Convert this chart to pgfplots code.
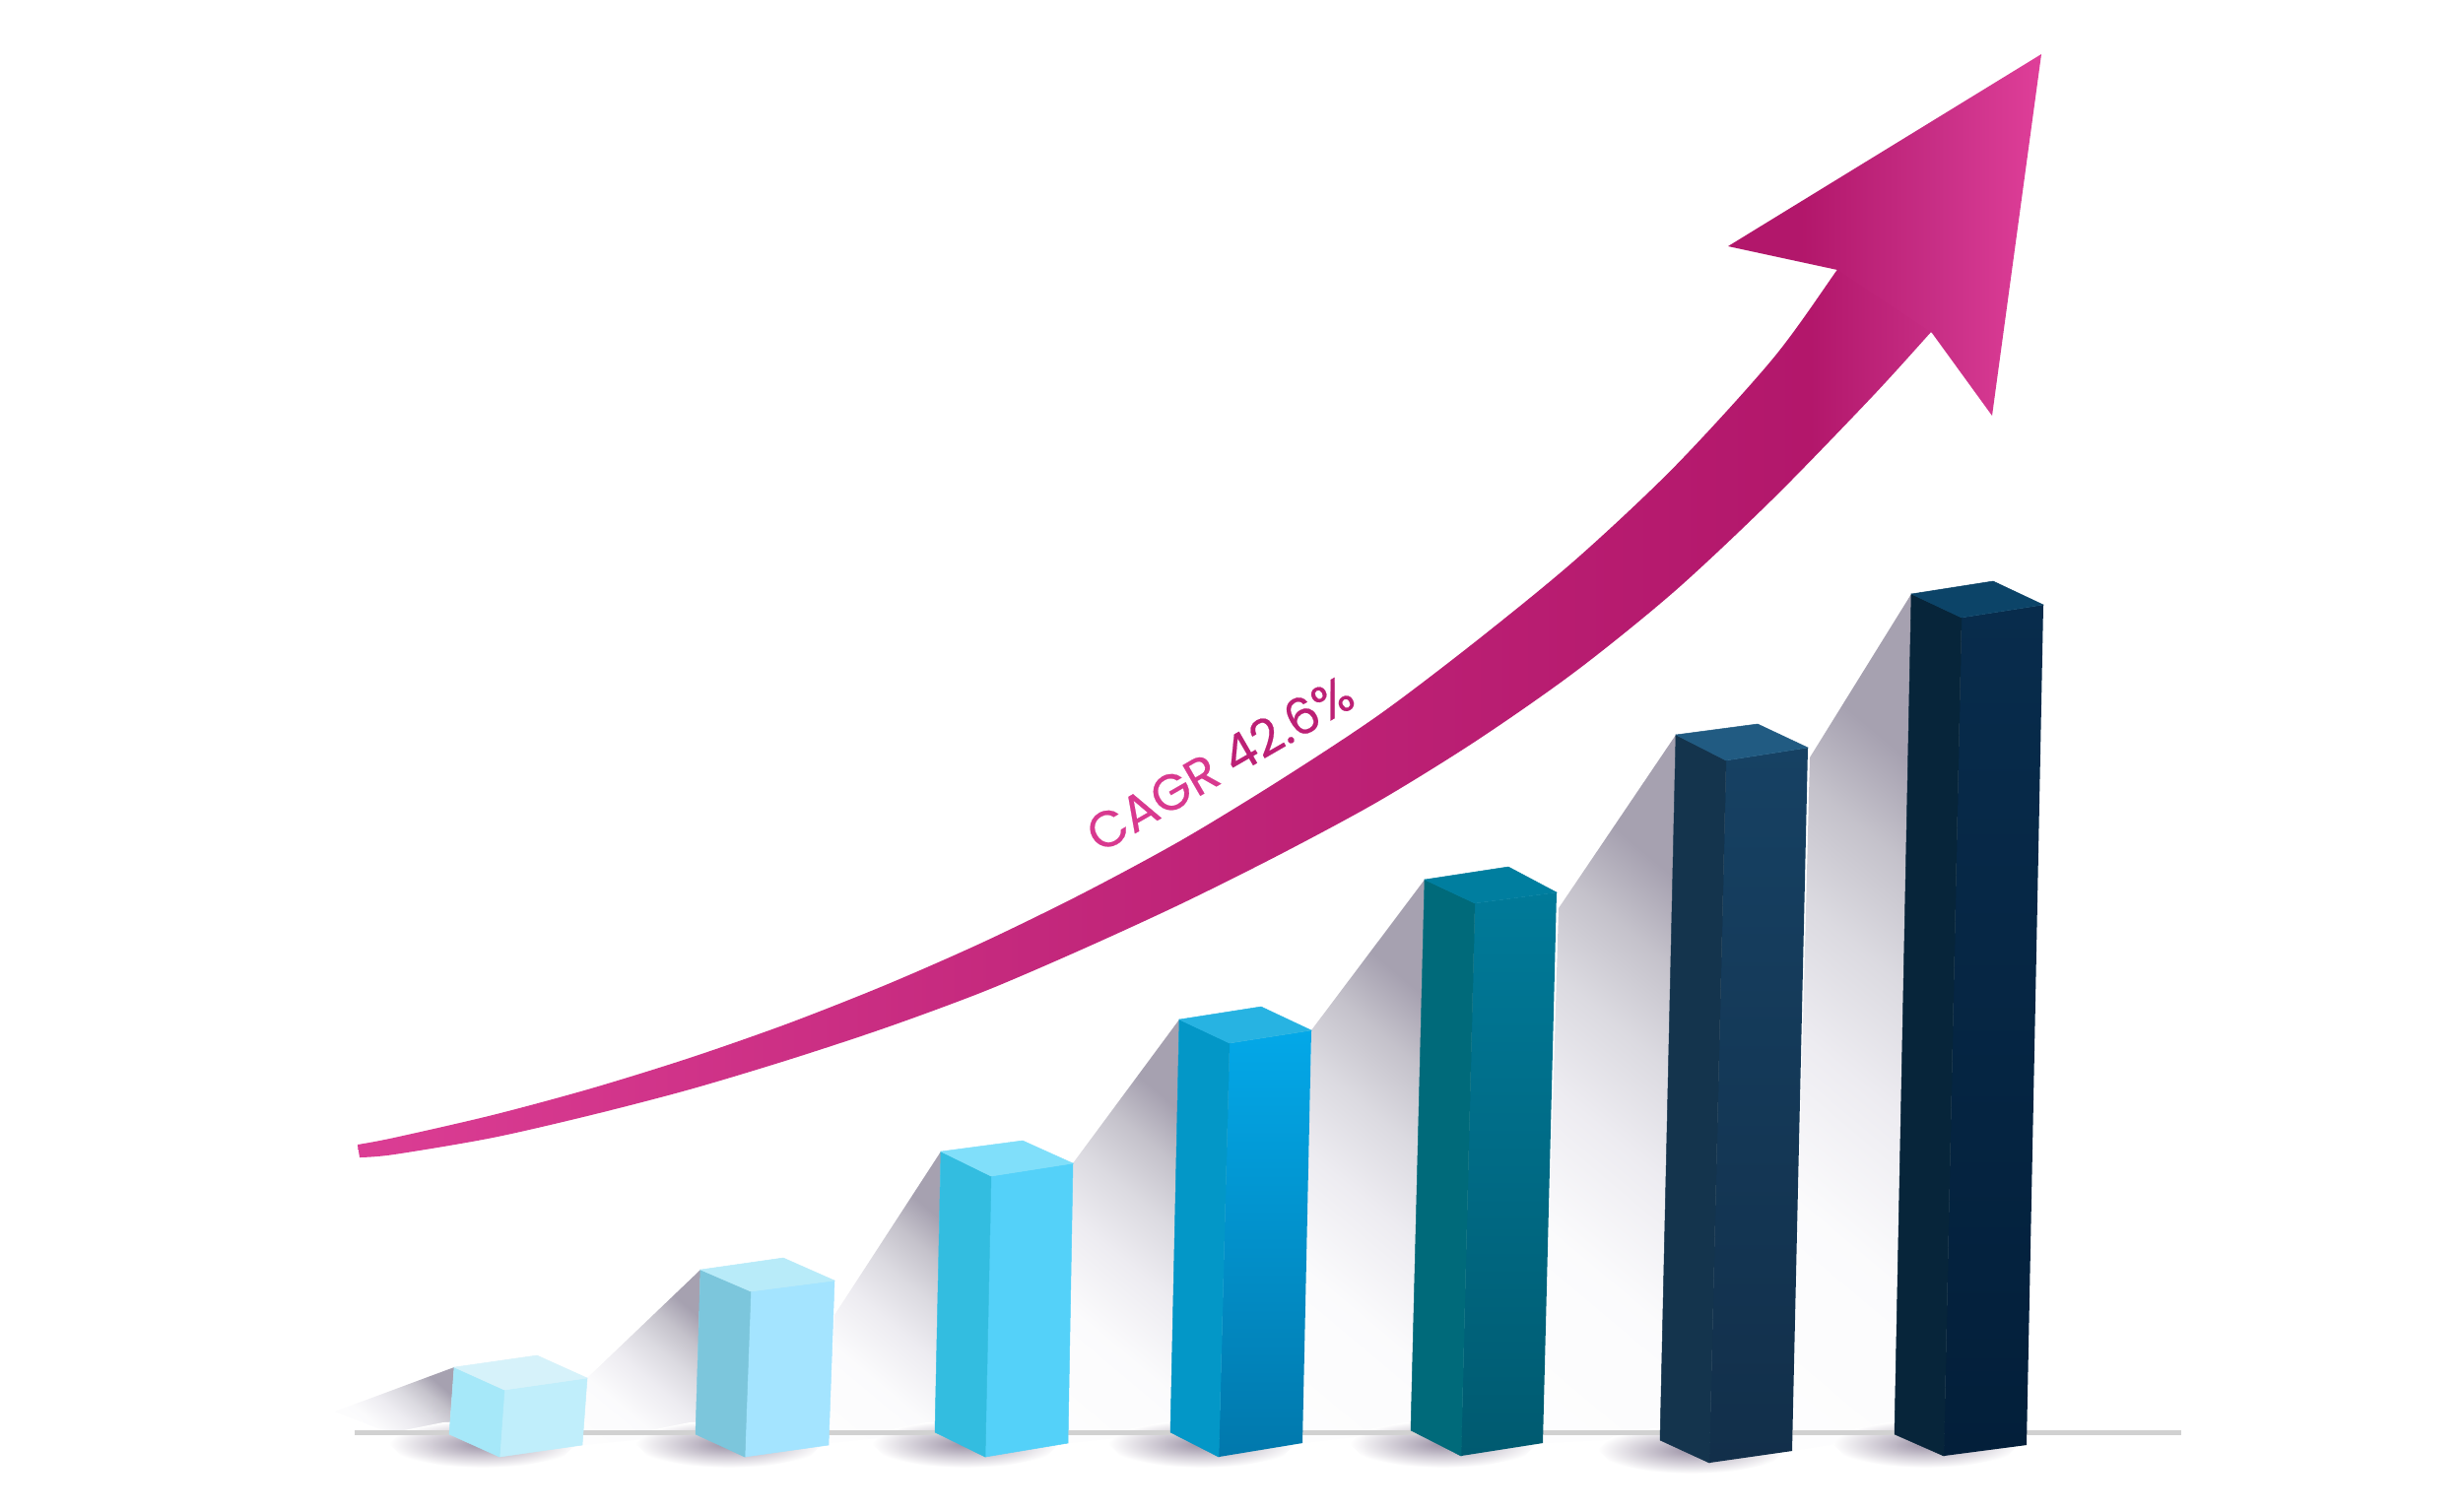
\documentclass[border=0pt]{standalone}
\usepackage{pgfplots}
\pgfplotsset{compat=1.18}
\usepackage{fontspec}
\setmainfont{Poppins}
\newfontfamily\cagrfont[FakeBold=0.4]{Poppins}
\pgfdeclarehorizontalshading{shaftshade}{100bp}{
  rgb(0bp)=(0.86,0.24,0.58);
  rgb(25bp)=(0.86,0.24,0.58);
  rgb(47.7bp)=(0.76,0.15,0.48);
  rgb(70.1bp)=(0.70,0.09,0.42);
  rgb(74.1bp)=(0.78,0.18,0.52);
  rgb(75bp)=(0.80,0.20,0.54);
  rgb(100bp)=(0.80,0.20,0.54)}
\pgfdeclarehorizontalshading{headshade}{100bp}{
  rgb(0bp)=(0.70,0.09,0.42);
  rgb(36.95bp)=(0.70,0.09,0.42);
  rgb(57.5bp)=(0.78,0.18,0.52);
  rgb(75bp)=(0.875,0.245,0.60);
  rgb(100bp)=(0.875,0.245,0.60)}
\pgfdeclareverticalshading{wallshade}{100bp}{
  rgb(0bp)=(1,1,1);
  rgb(33bp)=(0.985,0.985,0.99);
  rgb(46bp)=(0.93,0.925,0.945);
  rgb(56bp)=(0.86,0.855,0.88);
  rgb(65bp)=(0.77,0.76,0.795);
  rgb(73bp)=(0.65,0.63,0.69);
  rgb(100bp)=(0.65,0.63,0.69)}
\definecolor{floorc}{HTML}{9C92A6}
\definecolor{b1r}{HTML}{C0EEFB}\definecolor{b1l}{HTML}{A6E8F9}\definecolor{b1t}{HTML}{D6F2FA}
\definecolor{b2r}{HTML}{A4E4FF}\definecolor{b2l}{HTML}{7CC6DC}\definecolor{b2t}{HTML}{B8EBF9}
\definecolor{b3r}{HTML}{54D1F9}\definecolor{b3l}{HTML}{33BDE0}\definecolor{b3t}{HTML}{80DFFA}
\definecolor{b4a}{HTML}{03A8E8}\definecolor{b4m}{HTML}{039FDB}\definecolor{b4b}{HTML}{0178AC}\definecolor{b4l}{HTML}{0397C7}\definecolor{b4t}{HTML}{27B3E2}
\definecolor{b5a}{HTML}{007A99}\definecolor{b5m}{HTML}{00748F}\definecolor{b5b}{HTML}{005A70}\definecolor{b5l}{HTML}{006A7A}\definecolor{b5t}{HTML}{007E9F}
\definecolor{b6a}{HTML}{164163}\definecolor{b6m}{HTML}{164062}\definecolor{b6b}{HTML}{122F4A}\definecolor{b6l}{HTML}{14344D}\definecolor{b6t}{HTML}{215B82}
\definecolor{b7a}{HTML}{082C4C}\definecolor{b7m}{HTML}{072A49}\definecolor{b7b}{HTML}{031F3A}\definecolor{b7l}{HTML}{07253A}\definecolor{b7t}{HTML}{0C4468}
\newcommand{\face}[2]{\addplot[fill=#1,draw=#1,line width=0.2pt,forget plot] coordinates {#2} -- cycle;}
\newcommand{\gface}[4]{\addplot[top color=#1,middle color=#2,bottom color=#3,draw=none,forget plot] coordinates {#4} -- cycle;}
\newcommand{\wall}[1]{\addplot[shading=wallshade,shading angle=-40,draw=none,forget plot] coordinates {#1} -- cycle;}
\newcommand{\floorsh}[1]{\addplot[inner color=floorc,outer color=white,draw=none,forget plot] coordinates {#1} -- cycle;}
\begin{document}
\begin{tikzpicture}
\begin{axis}[scale only axis,width=1000pt,height=613.6pt,xmin=0,xmax=2500,ymin=0,ymax=1534,y dir=reverse,hide axis]
\addplot[fill=white,draw=none,forget plot] coordinates {(0,0)(2500,0)(2500,1534)(0,1534)} -- cycle;
% wall shadows
\wall{(461,1388)(340,1433)(400,1456)(456,1456)}
\wall{(711,1289)(596,1399)(590,1467)(706,1456)}
\wall{(955,1169)(847,1335)(841,1465)(949,1454)}
\wall{(1197,1035)(1089,1181)(1084,1465)(1188,1454)}
\wall{(1446,893)(1331,1046)(1322,1465)(1432,1452)}
\wall{(1701,746)(1582,922)(1566,1465)(1685,1459)}
\wall{(1940,603)(1837,769)(1819,1473)(1923,1456)}
% floor shadows
\floorsh{(395,1466)(410,1452)(450,1444)(490,1442)(530,1444)(570,1452)(585,1466)(570,1480)(530,1488)(490,1490)(450,1488)(410,1480)}
\floorsh{(645,1466)(660,1452)(700,1444)(740,1442)(780,1444)(820,1452)(835,1466)(820,1480)(780,1488)(740,1490)(700,1488)(660,1480)}
\floorsh{(885,1466)(900,1452)(940,1444)(980,1442)(1020,1444)(1060,1452)(1075,1466)(1060,1480)(1020,1488)(980,1490)(940,1488)(900,1480)}
\floorsh{(1125,1466)(1140,1452)(1180,1444)(1220,1442)(1260,1444)(1300,1452)(1315,1466)(1300,1480)(1260,1488)(1220,1490)(1180,1488)(1140,1480)}
\floorsh{(1370,1466)(1385,1452)(1425,1444)(1465,1442)(1505,1444)(1545,1452)(1560,1466)(1545,1480)(1505,1488)(1465,1490)(1425,1488)(1385,1480)}
\floorsh{(1622,1472)(1637,1458)(1677,1450)(1717,1448)(1757,1450)(1797,1458)(1812,1472)(1797,1486)(1757,1494)(1717,1496)(1677,1494)(1637,1486)}
\floorsh{(1860,1466)(1875,1452)(1915,1444)(1955,1442)(1995,1444)(2035,1452)(2050,1466)(2035,1480)(1995,1488)(1955,1490)(1915,1488)(1875,1480)}
% base line
\addplot[color=black!18,line width=2pt,forget plot] coordinates {(360,1454)(2214,1454)};
% bar 1
\face{b1r}{(512,1411)(596,1399)(591,1467)(507,1479)}
\face{b1l}{(461,1388)(512,1411)(507,1479)(456,1456)}
\face{b1t}{(461,1388)(545,1376)(596,1399)(512,1411)}
% bar 2
\face{b2r}{(762,1311)(847,1300)(841,1467)(756,1479)}
\face{b2l}{(711,1289)(762,1311)(756,1479)(706,1456)}
\face{b2t}{(711,1289)(795,1277)(847,1300)(762,1311)}
% bar 3
\face{b3r}{(1006,1194)(1089,1181)(1084,1465)(1000,1479)}
\face{b3l}{(955,1169)(1006,1194)(1000,1479)(949,1454)}
\face{b3t}{(955,1169)(1038,1158)(1089,1181)(1006,1194)}
% bar 4
\gface{b4a}{b4m}{b4b}{(1248,1059)(1331,1046)(1322,1465)(1237,1479)}
\face{b4l}{(1197,1035)(1248,1059)(1237,1479)(1188,1454)}
\face{b4t}{(1197,1035)(1280,1022)(1331,1046)(1248,1059)}
% bar 5
\gface{b5a}{b5m}{b5b}{(1497,917)(1580,906)(1566,1465)(1483,1478)}
\face{b5l}{(1446,893)(1497,917)(1483,1478)(1432,1452)}
\face{b5t}{(1446,893)(1531,880)(1580,906)(1497,917)}
% bar 6
\gface{b6a}{b6m}{b6b}{(1752,772)(1835,759)(1819,1473)(1735,1485)}
\face{b6l}{(1701,746)(1752,772)(1735,1485)(1685,1462)}
\face{b6t}{(1701,746)(1784,735)(1835,759)(1752,772)}
% bar 7
\gface{b7a}{b7m}{b7b}{(1991,627)(2074,614)(2057,1467)(1973,1478)}
\face{b7l}{(1940,603)(1991,627)(1973,1478)(1923,1456)}
\face{b7t}{(1940,603)(2023,590)(2074,614)(1991,627)}
% arrow shaft and head
\addplot[shading=shaftshade,draw=none,forget plot,smooth] coordinates {
(363,1162)(400,1155)(500,1132)(600,1105)(700,1074)(800,1039)(900,999.5)(1000,955.5)(1100,906.5)(1200,852.5)(1300,791.5)(1400,725.5)(1500,649.5)(1600,567.5)(1700,473.5)(1800,363.5)(1865,273.5)(1905,215)
(1990,304)(1961,336)(1900,403)(1800,506)(1700,600)(1600,681)(1500,751)(1400,813)(1300,867)(1200,917)(1100,963)(1000,1006)(900,1043)(800,1076)(700,1106)(600,1132)(500,1155)(400,1172)(365,1175)
} -- cycle;
\addplot[shading=headshade,draw=none,forget plot] coordinates {(1754,250)(2072,55)(2022,422)(1961,338)(1865,274)} -- cycle;
\node[rotate=30,font=\cagrfont\fontsize{20.5}{23}\selectfont] at (axis cs:1238,775) {\textcolor[HTML]{D8398F}{CAGR} \textcolor[HTML]{BC2075}{42.6\%}};
\end{axis}
\end{tikzpicture}
\end{document}
